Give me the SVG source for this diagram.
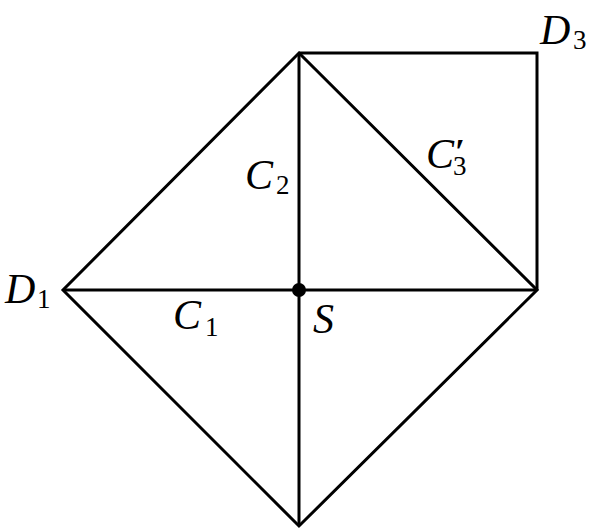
<svg xmlns="http://www.w3.org/2000/svg" width="597" height="531" viewBox="0 0 597 531">
<style>
.e{stroke:#000;stroke-width:3;fill:none;stroke-linejoin:miter;stroke-linecap:butt}
.m{font-family:"Liberation Serif",serif;font-style:italic;font-size:42px;fill:#000}
.s{font-style:normal;font-size:27px}
.p{font-style:normal;font-size:36px;font-weight:bold}
</style>
<rect width="597" height="531" fill="#fff"/>
<g id="connectors">
<polygon class="e" points="299,53 537,290 299,526 63,290"/>
<line class="e" x1="63" y1="290" x2="537" y2="290"/>
<line class="e" x1="299" y1="53" x2="299" y2="526"/>
<polyline class="e" points="299,53 537,53 537,290"/>
</g>
<g id="S"><circle cx="299" cy="290" r="7" fill="#000"/><text class="m" x="313" y="333">S</text></g>
<g id="D1"><text class="m" x="5" y="303">D<tspan class="s" x="37" y="308">1</tspan></text></g>
<g id="D3"><text class="m" x="540" y="44">D<tspan class="s" x="573" y="49">3</tspan></text></g>
<g id="C1"><text class="m" x="173" y="329">C<tspan class="s" x="205" y="336">1</tspan></text></g>
<g id="C2"><text class="m" x="245" y="189">C<tspan class="s" x="276" y="194">2</tspan></text></g>
<g id="C3"><text class="m" x="426" y="168">C<tspan class="p" x="455" y="164">′</tspan><tspan class="s" x="453" y="175">3</tspan></text></g>
</svg>
